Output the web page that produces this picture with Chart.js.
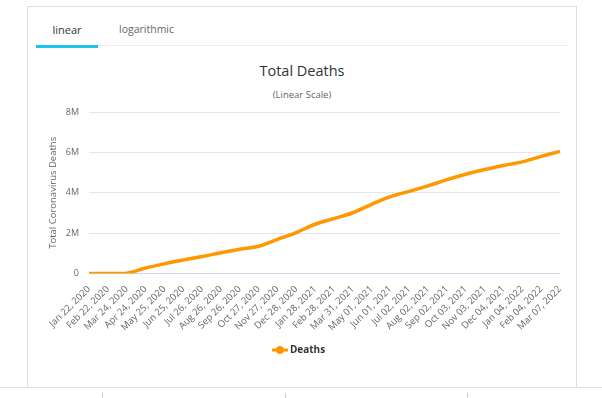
<!DOCTYPE html>
<html lang="en">
<head>
<meta charset="UTF-8">
<title>Total Deaths</title>
<script src="https://cdn.jsdelivr.net/npm/chart.js"></script>
<style>
  body { margin: 0; background: #fff; font-family: "Open Sans", sans-serif; width: 602px; height: 398px; overflow: hidden; position: relative; }
  .panel { position: absolute; left: 27px; top: 6px; width: 548px; height: 381px; border: 1px solid #ddd; border-bottom: none; }
  .tabs { position: absolute; left: 8px; top: 0; width: 532px; height: 38px; border-bottom: 1px solid #eee; }
  .tab { position: absolute; top: 15px; font-size: 11px; }
  .tab.on { left: 0; width: 62px; text-align: center; color: #333; height: 23px; border-bottom: 3px solid #1cc4ee; }
  .tab.off { left: 83px; color: #666; font-size: 10.5px; }
  .bottom { position: absolute; left: 0; top: 387px; width: 602px; border-top: 1px solid #ddd; }
  .tick { position: absolute; top: 393px; width: 1px; height: 5px; background: #ccc; }
  .title { position: absolute; left: 0; width: 604px; text-align: center; }
  .title.main { top: 61px; font-size: 14.5px; line-height: 20px; color: #333; }
  .title.sub { top: 88px; font-size: 9.5px; line-height: 14px; color: #666; }
  .wrap { position: absolute; left: 28px; top: 62px; width: 547px; height: 311px; }
</style>
</head>
<body>
<div class="panel">
  <div class="tabs">
    <div class="tab on">linear</div>
    <div class="tab off">logarithmic</div>
  </div>
</div>
<div class="bottom"></div>
<div class="tick" style="left:102px"></div>
<div class="tick" style="left:285px"></div>
<div class="tick" style="left:467px"></div>
<div class="title main">Total Deaths</div>
<div class="title sub">(Linear Scale)</div>
<div class="wrap"><canvas id="deathsChart"></canvas></div>
<script>
  // tick labels (one every 31 days) and cumulative deaths
  var dates = ['Jan 22, 2020', 'Feb 22, 2020', 'Mar 24, 2020', 'Apr 24, 2020', 'May 25, 2020',
    'Jun 25, 2020', 'Jul 26, 2020', 'Aug 26, 2020', 'Sep 26, 2020', 'Oct 27, 2020',
    'Nov 27, 2020', 'Dec 28, 2020', 'Jan 28, 2021', 'Feb 28, 2021', 'Mar 31, 2021',
    'May 01, 2021', 'Jun 01, 2021', 'Jul 02, 2021', 'Aug 02, 2021', 'Sep 02, 2021',
    'Oct 03, 2021', 'Nov 03, 2021', 'Dec 04, 2021', 'Jan 04, 2022', 'Feb 04, 2022', 'Mar 07, 2022'];
  var deaths = [17, 2600, 19000, 270000, 480000,
    670000, 840000, 1030000, 1200000, 1350000,
    1690000, 2030000, 2440000, 2720000, 3010000,
    3430000, 3810000, 4070000, 4340000, 4650000,
    4920000, 5150000, 5350000, 5530000, 5800000, 6050000];
  var yTicks = [0, 2000000, 4000000, 6000000, 8000000];

  // legend symbol: short line with a dot, like the original
  var sym = document.createElement('canvas');
  sym.width = 16; sym.height = 8;
  var sc = sym.getContext('2d');
  sc.fillStyle = '#ff9800';
  sc.fillRect(0, 2.5, 16, 3);
  sc.beginPath(); sc.arc(8, 4, 4, 0, Math.PI * 2); sc.fill();

  Chart.defaults.font.family = '"Open Sans", sans-serif';
  var ctx = document.getElementById('deathsChart').getContext('2d');
  var chart = new Chart(ctx, {
    type: 'line',
    data: {
      labels: dates,
      datasets: [{
        label: 'Deaths',
        data: deaths,
        borderColor: '#ff9800',
        backgroundColor: '#ff9800',
        borderWidth: 3.5,
        pointRadius: 0,
        cubicInterpolationMode: 'monotone',
        pointStyle: sym
      }]
    },
    options: {
      responsive: true,
      maintainAspectRatio: false,
      animation: false,
      layout: { padding: { left: 12, right: 15, top: 50, bottom: 8 } },
      plugins: {
        title: { display: false },
        legend: {
          position: 'bottom',
          labels: {
            usePointStyle: true,
            color: '#333',
            font: { size: 10, weight: 'bold' },
            padding: 10
          }
        },
        tooltip: { enabled: false }
      },
      scales: {
        x: {
          grid: { display: false },
          border: { display: false },
          ticks: {
            autoSkip: false,
            maxRotation: 45,
            minRotation: 45,
            color: '#666',
            font: { size: 9.5 },
            padding: 2
          }
        },
        y: {
          min: 0,
          max: 8000000,
          afterBuildTicks: function (axis) {
            axis.ticks = yTicks.map(function (v) { return { value: v }; });
          },
          afterFit: function (axis) { axis.width = 49; },
          border: { display: false },
          grid: {
            drawTicks: false,
            color: function (c) { return c.tick && c.tick.value === 0 ? '#ccd6eb' : '#e6e6e6'; }
          },
          ticks: {
            color: '#666',
            font: { size: 9 },
            padding: 10,
            callback: function (v) { return v === 0 ? '0' : (v / 1000000) + 'M'; }
          },
          title: {
            display: true,
            text: 'Total Coronavirus Deaths',
            color: '#666',
            font: { size: 9.5 },
            padding: { top: 8, bottom: 2 }
          }
        }
      }
    }
  });
</script>
</body>
</html>
